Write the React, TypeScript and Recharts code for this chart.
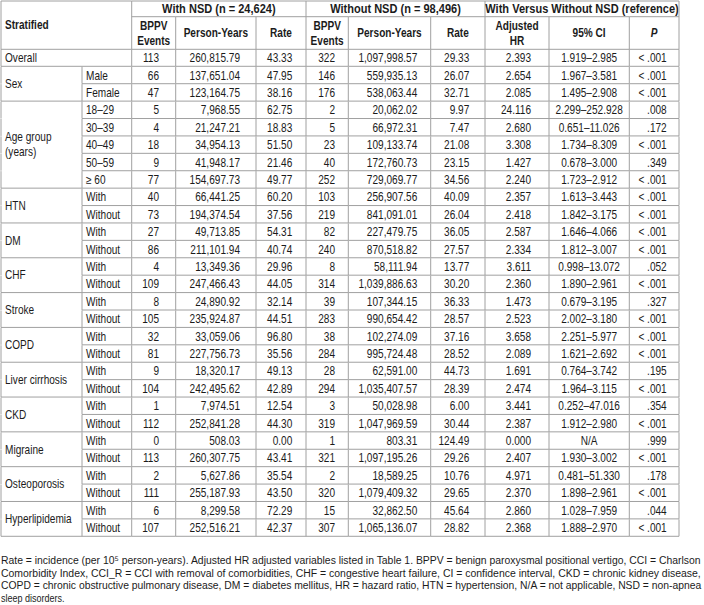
import React, { useLayoutEffect, useRef, useState } from "react";
import { ComposedChart, Bar, XAxis, YAxis } from "recharts";

// ---------------- data ----------------
const strata = [
  "Overall", "Sex", "Age group (years)", "HTN", "DM", "CHF", "Stroke", "COPD",
  "Liver cirrhosis", "CKD", "Migraine", "Osteoporosis", "Hyperlipidemia",
];
const strataLevels = [
  [""],
  ["Male", "Female"],
  ["18–29", "30–39", "40–49", "50–59", "≥ 60"],
  ["With", "Without"], ["With", "Without"], ["With", "Without"], ["With", "Without"],
  ["With", "Without"], ["With", "Without"], ["With", "Without"], ["With", "Without"],
  ["With", "Without"], ["With", "Without"],
];

const headerGroups = ["With NSD (n = 24,624)", "Without NSD (n = 98,496)", "With Versus Without NSD (reference)"];
const subHeaders = ["BPPV\nEvents", "Person-Years", "Rate", "BPPV\nEvents", "Person-Years", "Rate", "Adjusted\nHR", "95% CI", "P"];
const stratHeader = "Stratified";

const eventsNSD = [113, 66, 47, 5, 4, 18, 9, 77, 40, 73, 27, 86, 4, 109, 8, 105, 32, 81, 9, 104, 1, 112, 0, 113, 2, 111, 6, 107];
const personYearsNSD = [
  260815.79, 137651.04, 123164.75, 7968.55, 21247.21, 34954.13, 41948.17, 154697.73,
  66441.25, 194374.54, 49713.85, 211101.94, 13349.36, 247466.43, 24890.92, 235924.87,
  33059.06, 227756.73, 18320.17, 242495.62, 7974.51, 252841.28, 508.03, 260307.75,
  5627.86, 255187.93, 8299.58, 252516.21,
];
const rateNSD = [43.33, 47.95, 38.16, 62.75, 18.83, 51.5, 21.46, 49.77, 60.2, 37.56, 54.31, 40.74, 29.96, 44.05, 32.14, 44.51, 96.8, 35.56, 49.13, 42.89, 12.54, 44.3, 0.0, 43.41, 35.54, 43.5, 72.29, 42.37];
const eventsNoNSD = [322, 146, 176, 2, 5, 23, 40, 252, 103, 219, 82, 240, 8, 314, 39, 283, 38, 284, 28, 294, 3, 319, 1, 321, 2, 320, 15, 307];
const personYearsNoNSD = [
  1097998.57, 559935.13, 538063.44, 20062.02, 66972.31, 109133.74, 172760.73, 729069.77,
  256907.56, 841091.01, 227479.75, 870518.82, 58111.94, 1039886.63, 107344.15, 990654.42,
  102274.09, 995724.48, 62591.0, 1035407.57, 50028.98, 1047969.59, 803.31, 1097195.26,
  18589.25, 1079409.32, 32862.5, 1065136.07,
];
const rateNoNSD = [29.33, 26.07, 32.71, 9.97, 7.47, 21.08, 23.15, 34.56, 40.09, 26.04, 36.05, 27.57, 13.77, 30.2, 36.33, 28.57, 37.16, 28.52, 44.73, 28.39, 6.0, 30.44, 124.49, 29.26, 10.76, 29.65, 45.64, 28.82];
const adjustedHR = [2.393, 2.654, 2.085, 24.116, 2.68, 3.308, 1.427, 2.24, 2.357, 2.418, 2.587, 2.334, 3.611, 2.36, 1.473, 2.523, 3.658, 2.089, 1.691, 2.474, 3.441, 2.387, 0.0, 2.407, 4.971, 2.37, 2.86, 2.368];
const ciLower: (number | null)[] = [1.919, 1.967, 1.495, 2.299, 0.651, 1.734, 0.678, 1.723, 1.613, 1.842, 1.646, 1.812, 0.998, 1.89, 0.679, 2.002, 2.251, 1.621, 0.764, 1.964, 0.252, 1.912, null, 1.93, 0.481, 1.898, 1.028, 1.888];
const ciUpper: (number | null)[] = [2.985, 3.581, 2.908, 252.928, 11.026, 8.309, 3.0, 2.912, 3.443, 3.175, 4.066, 3.007, 13.072, 2.961, 3.195, 3.18, 5.977, 2.692, 3.742, 3.115, 47.016, 2.98, null, 3.002, 51.33, 2.961, 7.959, 2.97];
const pValues = ["< .001", "< .001", "< .001", ".008", ".172", "< .001", ".349", "< .001", "< .001", "< .001", "< .001", "< .001", ".052", "< .001", ".327", "< .001", "< .001", "< .001", ".195", "< .001", ".354", "< .001", ".999", "< .001", ".178", "< .001", ".044", "< .001"];

const footnoteLines = [
  "Rate = incidence (per 10⁵ person-years). Adjusted HR adjusted variables listed in Table 1. BPPV = benign paroxysmal positional vertigo, CCI = Charlson",
  "Comorbidity Index, CCI_R = CCI with removal of comorbidities, CHF = congestive heart failure, CI = confidence interval, CKD = chronic kidney disease,",
  "COPD = chronic obstructive pulmonary disease, DM = diabetes mellitus, HR = hazard ratio, HTN = hypertension, N/A = not applicable, NSD = non-apnea",
  "sleep disorders.",
];

// ---------------- layout ----------------
const W = 704;
const H = 605;
const TABLE_TOP = 1;
const HEADER_BOTTOM = 49.3;
const TABLE_BOTTOM = 536.7;
const HEADER_ROW1 = 15.7;
const LEFT = 1;
const SX = 0.84;
const SX_GROUP = 0.92;
const LINE = "#a0a0a0";
const INK = "#1b1b1b";
const FONT = "'Liberation Sans', Arial, Helvetica, sans-serif";

type Col = { w: number; align: "start" | "end" | "middle"; pad: number };
const COLS: Col[] = [
  { w: 81, align: "start", pad: 4 },
  { w: 49.7, align: "start", pad: 4 },
  { w: 44, align: "end", pad: 16.7 },
  { w: 80.3, align: "end", pad: 16 },
  { w: 50, align: "end", pad: 13.7 },
  { w: 42.3, align: "end", pad: 13.3 },
  { w: 82.4, align: "end", pad: 13.4 },
  { w: 54.3, align: "end", pad: 15.7 },
  { w: 64, align: "end", pad: 18 },
  { w: 80.3, align: "middle", pad: 0 },
  { w: 49.7, align: "end", pad: 12.3 },
];
const TABLE_W = COLS.reduce((s, c) => s + c.w, 0);
const GROUP_COLS = [[2, 3, 4], [5, 6, 7], [8, 9, 10]];

// ---------------- rows ----------------
type RowInfo = { stratum: string; level: string; first: boolean; last: boolean; span: number; merged: boolean };
const rowInfo: RowInfo[] = [];
strata.forEach((s, gi) => {
  const lv = strataLevels[gi];
  lv.forEach((l, li) => {
    rowInfo.push({ stratum: s, level: l, first: li === 0, last: li === lv.length - 1, span: lv.length, merged: l === "" });
  });
});

const fmtPY = (v: number) => v.toLocaleString("en-US", { minimumFractionDigits: 2, maximumFractionDigits: 2 });
const cellText = (ci: number, ri: number): string => {
  switch (ci) {
    case 1: return rowInfo[ri].level;
    case 2: return String(eventsNSD[ri]);
    case 3: return fmtPY(personYearsNSD[ri]);
    case 4: return rateNSD[ri].toFixed(2);
    case 5: return String(eventsNoNSD[ri]);
    case 6: return fmtPY(personYearsNoNSD[ri]);
    case 7: return rateNoNSD[ri].toFixed(2);
    case 8: return adjustedHR[ri].toFixed(3);
    case 9: {
      const lo = ciLower[ri], hi = ciUpper[ri];
      return lo == null || hi == null ? "N/A" : `${lo.toFixed(3)}–${hi.toFixed(3)}`;
    }
    case 10: return pValues[ri];
    default: return "";
  }
};

const chartData = rowInfo.map((r, i) => {
  const o: Record<string, any> = { id: `row${i}` };
  COLS.forEach((c, ci) => { o[`c${ci}`] = c.w; });
  return o;
});

// ---------------- drawing helpers ----------------
const Txt = (props: { x: number; y: number; anchor?: "start" | "end" | "middle"; bold?: boolean; italic?: boolean; size?: number; sx?: number; children: React.ReactNode }) => (
  <text
    transform={`translate(${props.x},${props.y}) scale(${props.sx || SX},1)`}
    x={0}
    y={0}
    textAnchor={props.anchor || "start"}
    fontSize={props.size || 12}
    fontWeight={props.bold ? 700 : 400}
    fontStyle={props.italic ? "italic" : "normal"}
    fontFamily={FONT}
    fill={INK}
  >
    {props.children}
  </text>
);

function FitLine(props: { x: number; y: number; width: number; justify: boolean; text: string }) {
  const ref = useRef<SVGTextElement>(null);
  const [s, setS] = useState(0.82);
  useLayoutEffect(() => {
    if (props.justify && ref.current) {
      const len = ref.current.getComputedTextLength();
      if (len > 0) setS(props.width / len);
    }
  }, [props.justify, props.width, props.text]);
  return (
    <text
      ref={ref}
      transform={`translate(${props.x},${props.y}) scale(${s},1)`}
      x={0}
      y={0}
      fontSize={11}
      fontFamily={FONT}
      fill={INK}
    >
      {props.text}
    </text>
  );
}

const Ln = (x1: number, y1: number, x2: number, y2: number, key: string) => (
  <line key={key} x1={x1} y1={y1} x2={x2} y2={y2} stroke={LINE} strokeWidth={1} />
);

const BASE = 4.3;

function renderCell(ci: number, p: any) {
  const { x, y, width: w, height: h, index: ri } = p;
  const col = COLS[ci];
  const k = w / col.w;
  const info = rowInfo[ri];
  const els: React.ReactNode[] = [];

  // ---- header, drawn with the first body row ----
  if (ri === 0) {
    const top = y - (HEADER_BOTTOM - TABLE_TOP);
    const mid = top + HEADER_ROW1;
    els.push(Ln(x, top, x + w, top, "htop"));
    els.push(Ln(x, y, x + w, y, "hbot"));
    if (ci === 0) {
      els.push(Ln(x, top, x, y, "hleft"));
      els.push(<Txt key="hs" x={x + col.pad} y={(top + y) / 2 + BASE} bold>{stratHeader}</Txt>);
    } else if (ci === 1) {
      els.push(Ln(x + w, top, x + w, y, "hright"));
    } else {
      const gi = GROUP_COLS.findIndex((g) => g.includes(ci));
      const g = GROUP_COLS[gi];
      const isEnd = g[g.length - 1] === ci;
      els.push(Ln(x, mid, x + w, mid, "hmid"));
      els.push(Ln(x + w, isEnd ? top : mid, x + w, y, "hright"));
      if (g[0] === ci) {
        const gw = g.reduce((s, c) => s + COLS[c].w, 0) * k;
        els.push(<Txt key="hg" x={x + gw / 2} y={(top + mid) / 2 + BASE} anchor="middle" bold sx={SX_GROUP}>{headerGroups[gi]}</Txt>);
      }
      const label = subHeaders[ci - 2];
      const lines = label.split("\n");
      const cy = (mid + y) / 2;
      lines.forEach((t, li) => {
        const off = (li - (lines.length - 1) / 2) * 14.5;
        els.push(
          <Txt key={`hs${li}`} x={x + w / 2} y={cy + off + BASE} anchor="middle" bold italic={label === "P"}>{t}</Txt>
        );
      });
    }
  }

  // ---- body cell ----
  if (ci === 0) {
    els.push(Ln(x, y, x, y + h, "left"));
    if (!info.merged) els.push(Ln(x + w, y, x + w, y + h, "right"));
    if (info.last) els.push(Ln(x, y + h, x + w, y + h, "bottom"));
    if (info.first) {
      const cy = y + (h * info.span) / 2;
      const idx = info.stratum.indexOf(" (");
      const lines = idx > 0 ? [info.stratum.slice(0, idx), info.stratum.slice(idx + 1)] : [info.stratum];
      lines.forEach((t, li) => {
        const off = (li - (lines.length - 1) / 2) * 15;
        els.push(<Txt key={`g${li}`} x={x + col.pad} y={cy + off + BASE}>{t}</Txt>);
      });
    }
  } else {
    els.push(Ln(x + w, y, x + w, y + h, "right"));
    els.push(Ln(x, y + h, x + w, y + h, "bottom"));
    const t = cellText(ci, ri);
    if (t) {
      const tx = col.align === "start" ? x + col.pad : col.align === "end" ? x + w - col.pad : x + w / 2;
      els.push(<Txt key="t" x={tx} y={y + h / 2 + BASE} anchor={col.align}>{t}</Txt>);
    }
  }

  // ---- footnote, drawn with the last row ----
  if (ci === 0 && ri === rowInfo.length - 1) {
    const baseY = y + h + 27.8;
    footnoteLines.forEach((line, li) => {
      els.push(
        <FitLine
          key={`fn${li}`}
          x={x}
          y={baseY + li * 12.5}
          width={700}
          justify={li < footnoteLines.length - 1}
          text={line}
        />
      );
    });
  }

  return <g>{els}</g>;
}

export default function App() {
  return (
    <div style={{ position: "absolute", left: 0, top: 0, width: W, height: H, background: "#fff" }}>
      <ComposedChart
        width={W}
        height={H}
        data={chartData}
        layout="vertical"
        barCategoryGap={0}
        barGap={0}
        margin={{ top: HEADER_BOTTOM, bottom: H - TABLE_BOTTOM, left: LEFT, right: W - LEFT - TABLE_W }}
      >
        <XAxis type="number" domain={[0, TABLE_W]} hide />
        <YAxis type="category" dataKey="id" hide />
        {COLS.map((c, ci) => (
          <Bar
            key={ci}
            dataKey={`c${ci}`}
            stackId="table"
            fill="none"
            isAnimationActive={false}
            shape={(p: any) => renderCell(ci, p)}
          />
        ))}
      </ComposedChart>
    </div>
  );
}
